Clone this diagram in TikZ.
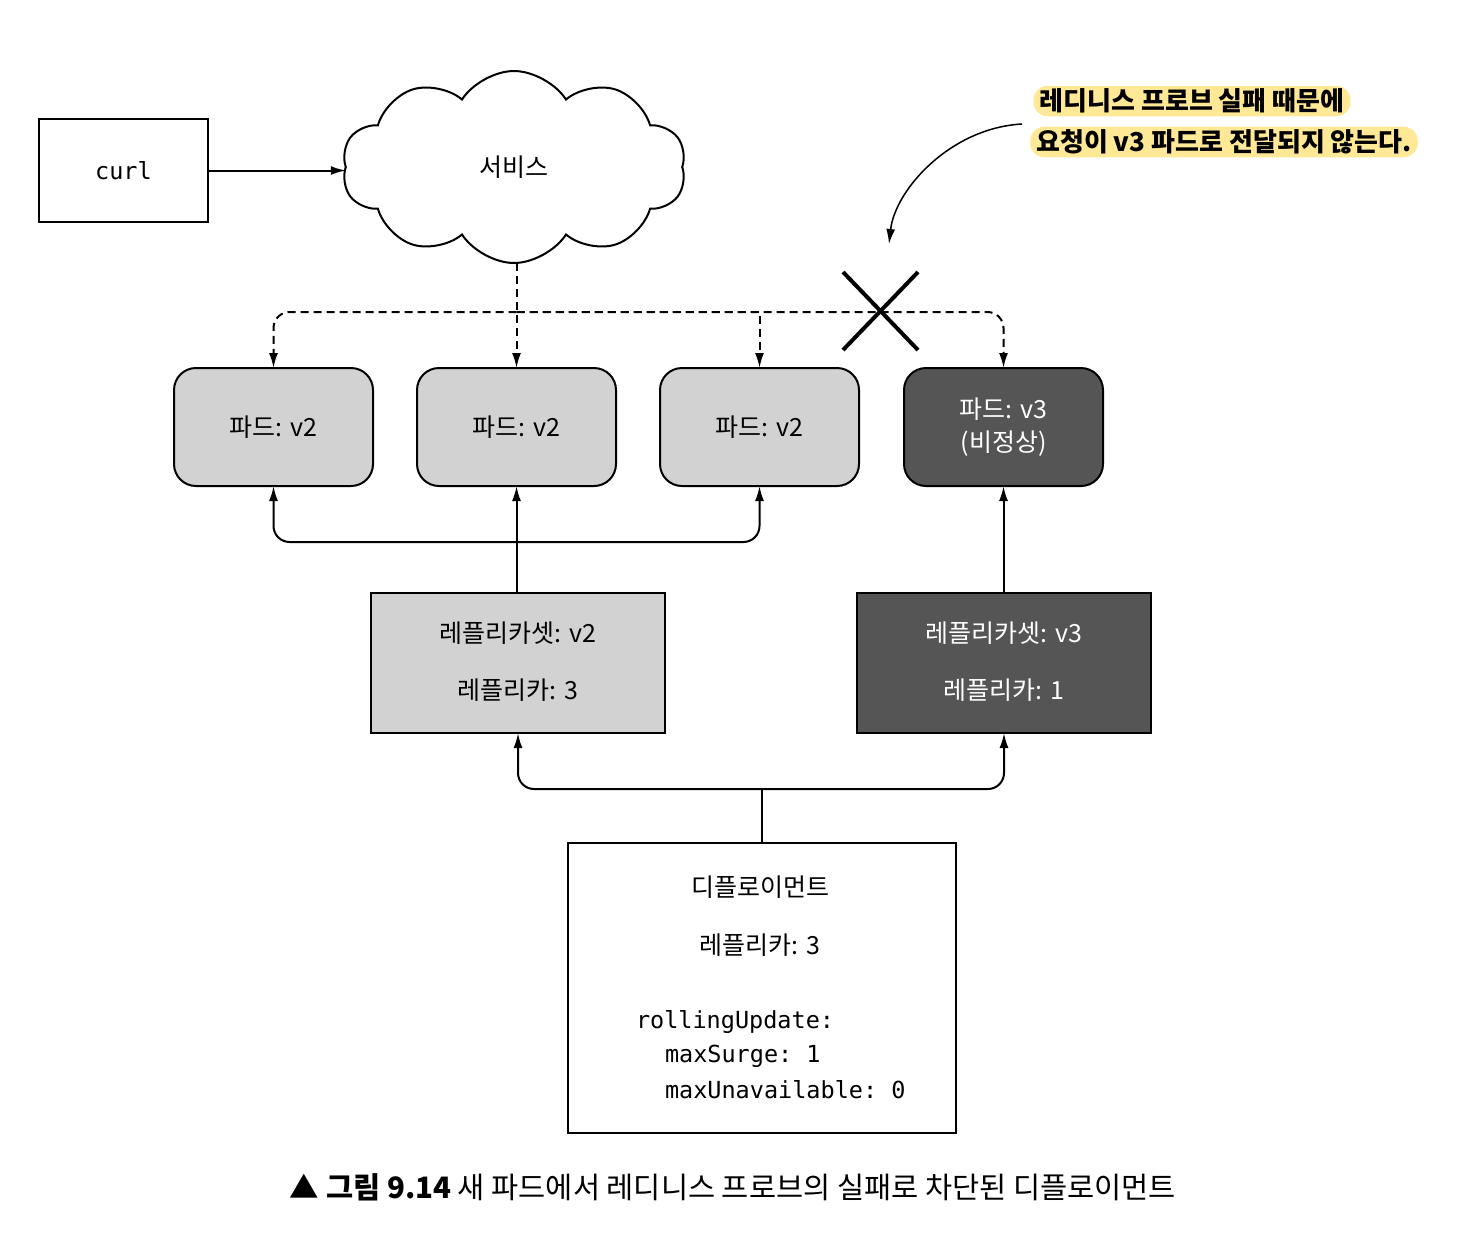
\documentclass[tikz,border=0pt]{standalone}
\usepackage{fontspec}
\setmainfont{Noto Sans CJK KR}
\setmonofont{DejaVu Sans Mono}
\usetikzlibrary{shapes.symbols,arrows.meta}
\definecolor{calloutyellow}{HTML}{FFE896}
\definecolor{podlight}{HTML}{D2D2D2}
\definecolor{poddark}{HTML}{555555}
\begin{document}
\begin{tikzpicture}[x=1pt,y=-1pt,
  every node/.style={inner sep=0pt, outer sep=0pt},
  kfont/.style={font=\fontsize{25}{33}\selectfont},
  mfont/.style={font=\ttfamily\fontsize{23.5}{28}\selectfont},
  plainbox/.style={draw, line width=2pt, rectangle},
  podbox/.style={draw, line width=2pt, rounded corners=22pt, minimum width=199pt, minimum height=118pt, fill=podlight, kfont, align=center},
  podbad/.style={podbox, fill=poddark, text=white},
  rsbox/.style={plainbox, minimum width=294pt, minimum height=140pt, fill=podlight},
  rsbad/.style={rsbox, fill=poddark},
  conn/.style={line width=2pt, rounded corners=16pt},
  dconn/.style={conn, dash pattern=on 8pt off 5pt},
  tip/.style={-{Latex[length=15pt,width=9pt]}},
  callout/.style={fill=calloutyellow, rounded corners=14pt, inner xsep=6pt, inner ysep=3pt, font=\bfseries\fontsize{26}{30}\selectfont}
]
\useasboundingbox (0,0) rectangle (1480,1240);

% curl and service
\node[plainbox, minimum width=169pt, minimum height=103pt, mfont] (curl) at (123.5,170.5) {curl};
\node[cloud, draw, line width=2pt, cloud puffs=10, cloud puff arc=115, aspect=1.8,
      minimum width=344pt, minimum height=192pt, kfont] (svc) at (514,167) {서비스};
\draw[line width=2pt, tip] (curl.east) -- (curl.east -| svc.west);

% pods
\node[podbox] (pod1) at (273.5,427) {파드: v2};
\node[podbox] (pod2) at (516.5,427) {파드: v2};
\node[podbox] (pod3) at (759.5,427) {파드: v2};
\node[podbad] (pod4) at (1003.5,427) {파드: v3\\(비정상)};

% service -> pods (dashed)
\coordinate (svcj) at (516.5,312);
\draw[dconn, tip] (svc.south -| pod2.north) -- (pod2.north);
\draw[dconn, tip] (svcj) -| (pod1.north);
\draw[dconn, tip] (svcj) -| (pod4.north);
\draw[dconn, tip, rounded corners=0pt] (svcj) -| (pod3.north);

% X mark
\draw[line width=4pt] (843,272) -- (918,350);
\draw[line width=4pt] (843,350) -- (918,272);

% replicasets
\node[rsbox] (rs2) at (518,663) {};
\node[kfont] (rs2a) at (518,633) {레플리카셋: v2};
\node[kfont] (rs2b) at (518,690) {레플리카: 3};
\node[rsbad] (rs3) at (1004,663) {};
\node[kfont, text=white] (rs3a) at (1004,633) {레플리카셋: v3};
\node[kfont, text=white] (rs3b) at (1004,690) {레플리카: 1};

% rs -> pods
\coordinate (rsj) at (516.5,542);
\draw[conn, tip] (rs2.north -| pod2.south) -- (pod2.south);
\draw[conn, tip] (rsj) -| (pod1.south);
\draw[conn, tip] (rsj) -| (pod3.south);
\draw[conn, tip] (rs3.north -| pod4.south) -- (pod4.south);

% deployment
\node[plainbox, minimum width=388pt, minimum height=290pt] (dep) at (762,988) {};
\node[kfont] (depa) at (760,887) {디플로이먼트};
\node[kfont] (depb) at (760,945) {레플리카: 3};
\node[mfont, anchor=west] (depc) at (636,1022) {rollingUpdate:};
\node[mfont, anchor=west] (depd) at (665,1056) {maxSurge: 1};
\node[mfont, anchor=west] (depe) at (665,1090) {maxUnavailable: 0};

\coordinate (depj) at (762,789);
\draw[conn] (dep.north) -- (depj);
\draw[conn, tip] (depj) -| (rs2.south);
\draw[conn, tip] (depj) -| (rs3.south);

% callout
\node[callout] (cl1) at (1192,101) {레디니스 프로브 실패 때문에};
\node[callout] (cl2) at (1224,142) {요청이 v3 파드로 전달되지 않는다.};
\coordinate (clstart) at (1022,124);
\coordinate (cltarget) at (889,244);
\draw[line width=1.5pt, tip] (clstart) .. controls (950,128) and (895,190) .. (cltarget);

% caption
\node[font=\fontsize{29.5}{34}\selectfont] (cap) at (733,1187) {▲ \textbf{그림 9.14} 새 파드에서 레디니스 프로브의 실패로 차단된 디플로이먼트};
\end{tikzpicture}
\end{document}
